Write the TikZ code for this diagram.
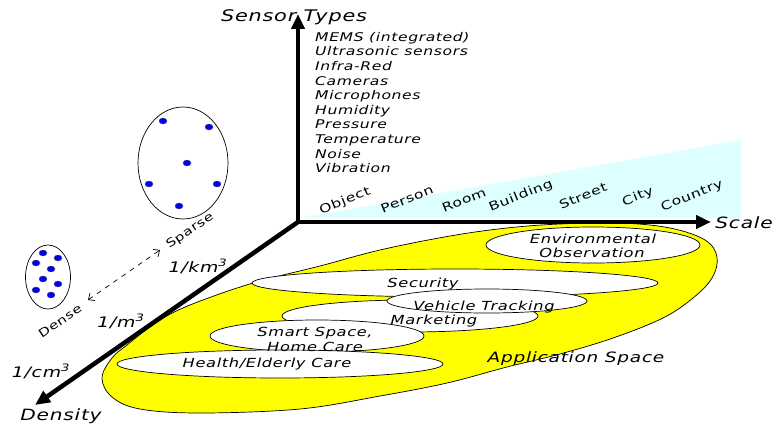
\documentclass[tikz,border=0pt]{standalone}
\usepackage{fontspec}
\setmainfont{DejaVu Sans}[ItalicFont={DejaVu Sans Oblique}, FakeStretch=1.3, LetterSpace=5]
\usetikzlibrary{arrows.meta,shapes.geometric}
\definecolor{skycyan}{RGB}{221,255,255}
\definecolor{appyellow}{RGB}{255,255,0}
\definecolor{dotblue}{RGB}{0,0,240}

\tikzset{
  axis/.style={line width=4.5pt, -{Triangle[length=15pt,width=13pt]}},
  biglabel/.style={font=\fontsize{15.5}{18}\selectfont\itshape, inner sep=0pt},
  unitlabel/.style={font=\fontsize{14.5}{16}\selectfont\itshape, inner sep=0pt},
  sensortext/.style={font=\fontsize{12}{14}\selectfont\itshape, inner sep=0pt},
  scaletext/.style={font=\fontsize{12}{15}\selectfont, inner sep=0pt, rotate=22},
  apptext/.style={font=\fontsize{12.5}{14}\selectfont\itshape, inner sep=0pt},
  appell/.style={ellipse, draw, line width=0.7pt, fill=white, inner sep=0pt},
  cluster/.style={ellipse, draw, line width=0.7pt, inner sep=0pt},
  sensordot/.style={fill=dotblue, draw=black!70, line width=0.3pt},
  densitytext/.style={font=\fontsize{11.5}{13}\selectfont, inner sep=0pt, rotate=34},
}

\begin{document}
\begin{tikzpicture}[x=1pt, y=-1pt]
\useasboundingbox (0,0) rectangle (776,428);

% band behind the scale words
\fill[skycyan] (300,218) -- (741,140) -- (741,218) -- cycle;

% application space
\draw[fill=appyellow, line width=0.7pt] plot[smooth cycle, tension=0.6] coordinates {
  (102,378) (112,358) (127,345) (157,322) (190,305) (253,283) (320,266)
  (380,250) (450,236) (507,228) (560,224) (620,223) (670,228) (705,240)
  (717,257) (712,278) (693,298) (663,318) (613,338) (560,354) (507,367)
  (447,383) (380,396) (300,409) (200,413) (140,409) (112,397)};

% application areas
\node[appell, minimum width=214pt, minimum height=36pt] (env) at (593,245) {};
\node[appell, minimum width=406pt, minimum height=28pt] (sec) at (455,283) {};
\node[appell, minimum width=256pt, minimum height=32pt] (mkt) at (410,316) {};
\node[appell, minimum width=200pt, minimum height=24pt] (veh) at (487,301) {};
\node[appell, minimum width=214pt, minimum height=32pt] (home) at (317,336) {};
\node[appell, minimum width=326pt, minimum height=28pt] (health) at (280,364) {};

\node[apptext, anchor=base] (envt1) at (593,243) {Environmental};
\node[apptext, anchor=base] (envt2) at (592,257) {Observation};
\node[apptext, anchor=base] (sect) at (423,287) {Security};
\node[apptext, anchor=base] (veht) at (484,310) {Vehicle Tracking};
\node[apptext, anchor=base] (mktt) at (434,324) {Marketing};
\node[apptext, anchor=base] (homet1) at (315,336) {Smart Space,};
\node[apptext, anchor=base] (homet2) at (315,351) {Home Care};
\node[apptext, anchor=base] (healtht) at (267,367) {Health/Elderly Care};
\node[font=\fontsize{14.25}{16}\selectfont\itshape, inner sep=0pt, anchor=base] (appt) at (576,362) {Application Space};

% axes
\coordinate (O) at (298,222);
\coordinate (ytip) at (298,14);
\coordinate (xtip) at (711,222);
\coordinate (ztip) at (35,405);
\draw[axis] (O) -- (ytip);
\draw[axis] (O) -- (xtip);
\draw[axis] (O) -- (ztip);

\node[biglabel, font=\fontsize{16}{18}\selectfont\itshape, anchor=base] (ylab) at (294,22) {Sensor Types};
\node[biglabel, anchor=base] (xlab) at (744,228) {Scale};
\node[biglabel, anchor=base] (zlab) at (61,420) {Density};

% sensor list
\foreach \t [count=\i] in {{MEMS (integrated)}, {Ultrasonic sensors}, {Infra-Red},
  {Cameras}, {Microphones}, {Humidity}, {Pressure}, {Temperature}, {Noise}, {Vibration}}
  \node[sensortext, anchor=base west] (sensor\i) at (315,{41.3+(\i-1)*14.6}) {\t};

% scale words
\node[scaletext] (sObject) at (345,201) {Object};
\node[scaletext] (sPerson) at (407,199) {Person};
\node[scaletext] (sRoom) at (464,200) {Room};
\node[scaletext] (sBuilding) at (521,196) {Building};
\node[scaletext] (sStreet) at (583,196) {Street};
\node[scaletext] (sCity) at (638,197) {City};
\node[scaletext] (sCountry) at (692,196) {Country};

% density units
\node[unitlabel, anchor=base] (ukm) at (198,272) {1/km\textsuperscript{3}};
\node[unitlabel, anchor=base] (um) at (121,327) {1/m\textsuperscript{3}};
\node[unitlabel, anchor=base] (ucm) at (41,377) {1/cm\textsuperscript{3}};

% sparse and dense deployments
\node[cluster, minimum width=90pt, minimum height=112pt] (sparse) at (183,163) {};
\foreach \p in {(163,121),(209,127),(187,163),(149,184),(217,184),(179,206)}
  \draw[sensordot] \p ellipse (4pt and 3pt);
\node[cluster, minimum width=45pt, minimum height=64pt] (dense) at (48,277) {};
\foreach \p in {(43,253),(36,263),(58,258),(51,269),(43,279),(58,284),(36,290),(51,295)}
  \draw[sensordot] \p ellipse (4pt and 3pt);

\coordinate (toDense) at (88,300);
\coordinate (toSparse) at (160,250);
\draw[line width=0.7pt, dash pattern=on 5pt off 5pt,
  {Straight Barb[length=5pt,width=9pt]}-{Straight Barb[length=5pt,width=9pt]}] (toDense) -- (toSparse);
\node[densitytext] (sparset) at (190,231) {Sparse};
\node[densitytext] (denset) at (60,321) {Dense};
\end{tikzpicture}
\end{document}
